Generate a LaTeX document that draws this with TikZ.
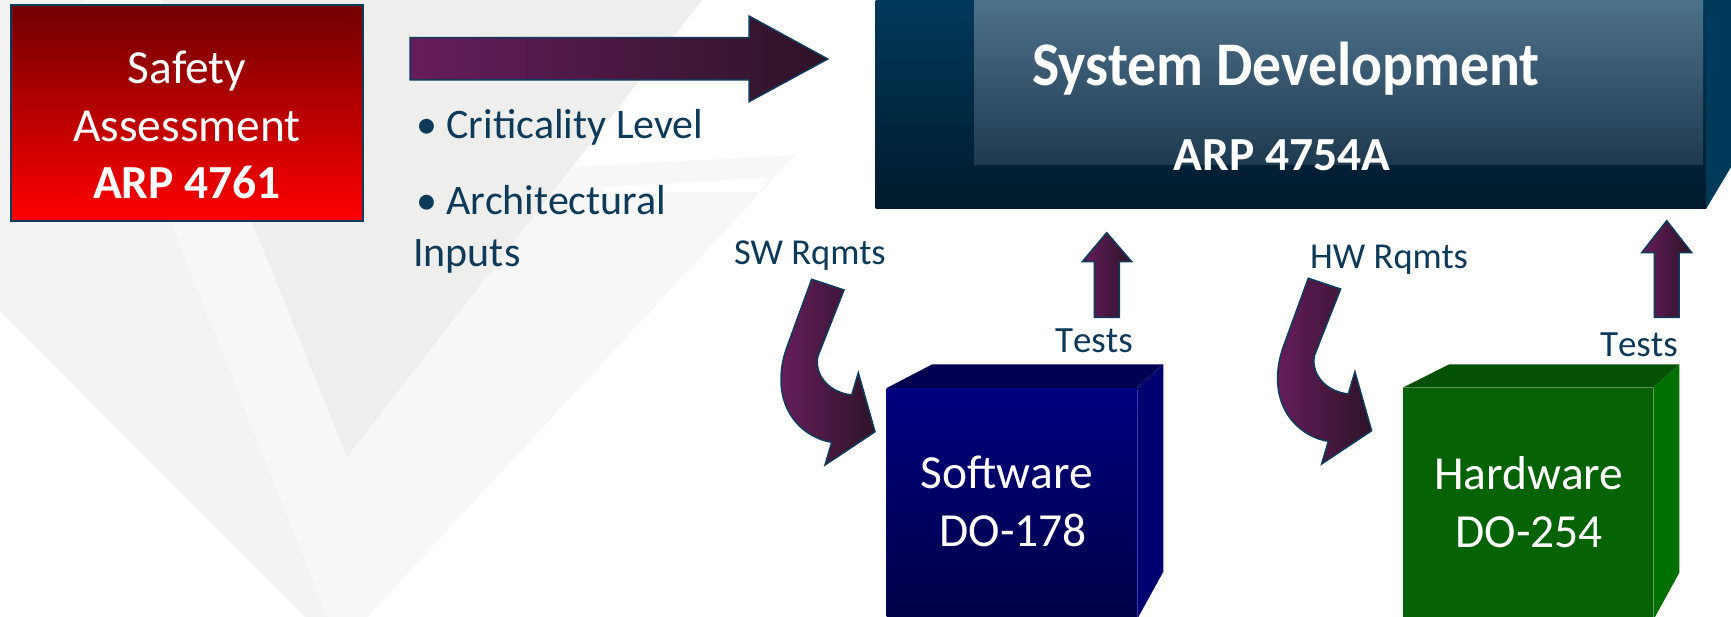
\documentclass[tikz,border=0pt]{standalone}
\usepackage{fontspec}
\setmainfont{Carlito}
\definecolor{txtblue}{RGB}{14,58,90}
\definecolor{arrowpurple}{RGB}{101,29,91}
\definecolor{arrowdark}{RGB}{45,19,39}
\definecolor{arrowedge}{RGB}{15,59,93}
\definecolor{safetytop}{RGB}{112,0,0}
\definecolor{safetybot}{RGB}{255,0,0}
\definecolor{sysTop}{RGB}{1,58,92}
\definecolor{sysBot}{RGB}{0,26,44}
\definecolor{sysInTop}{RGB}{79,115,140}
\definecolor{sysInBot}{RGB}{30,58,80}
\definecolor{sysSide}{RGB}{0,58,90}
\definecolor{swFrontTop}{RGB}{0,0,128}
\definecolor{swFrontBot}{RGB}{0,0,70}
\definecolor{swTopFace}{RGB}{0,0,80}
\definecolor{swSide}{RGB}{0,0,112}
\definecolor{swEdge}{RGB}{60,60,180}
\definecolor{hwFront}{RGB}{5,98,5}
\definecolor{hwTopFace}{RGB}{4,80,4}
\definecolor{hwSide}{RGB}{0,112,0}
\definecolor{bgA}{RGB}{243,243,243}
\definecolor{bgB}{RGB}{247,247,247}
\definecolor{bgC}{RGB}{238,238,236}
\begin{document}
\begin{tikzpicture}[x=1pt,y=-1pt,
  blockarrow/.style={draw=arrowedge,line width=1.5pt,left color=arrowpurple,right color=arrowdark},
  lbl/.style={inner sep=0pt,anchor=base,text=txtblue,font=\fontsize{36.5}{43}\selectfont},
  testlbl/.style={inner sep=0pt,anchor=base east,text=txtblue,font=\fontsize{37}{44}\selectfont\addfontfeature{Kerning=Off}},
  bullettxt/.style={inner sep=0pt,anchor=base west,text=txtblue,font=\fontsize{42}{50}\selectfont},
  whitetxt/.style={inner sep=0pt,anchor=base,text=white,font=\fontsize{47.5}{56}\selectfont},
  whitebold/.style={inner sep=0pt,anchor=base,text=white,font=\fontsize{47.5}{56}\selectfont\bfseries},
  rqarrow/.pic={
    \draw[draw=arrowedge,line width=1.5pt,left color=arrowpurple,right color=arrowdark]
      (811.7,279.3) -- (844,290) -- (818,356)
      .. controls (814,372) and (826,392) .. (851.7,395)
      -- (858.3,372.7) -- (875,431.7) -- (825,465) -- (831.7,442.3)
      .. controls (805,438) and (781,415) .. (781,380)
      .. controls (781,365) and (784,355) .. (788.3,343.3) -- cycle;
  }]
\useasboundingbox (0,0) rectangle (1731,617);
\fill[white] (0,0) rectangle (1731,617);
% background chevron
\fill[bgB] (83,0) -- (162,0) -- (347,457) -- (573,167) -- (795,155) -- (367,617) -- (327,617) -- cycle;
\fill[bgC] (162,0) -- (702,0) -- (347,457) -- cycle;
\fill[bgA] (0,0) -- (83,0) -- (327,617) -- (305,617) -- (0,311) -- cycle;
\fill[white] (603,187) -- (767,178) -- (760,192) -- (605,192) -- cycle;

% Safety assessment box
\draw[draw=arrowedge,line width=2pt,top color=safetytop,bottom color=safetybot] (11,5) rectangle (363,221);
\node[whitetxt] (safety1) at (187,83.3) {Safety};
\node[whitetxt] (safety2) at (187,141.7) {Assessment};
\node[whitebold] (safety3) at (187,198.3) {ARP 4761};

% big arrow
\draw[blockarrow] (410,37.7) -- (749,37.7) -- (749,16) -- (827.7,59) -- (749,101.7) -- (749,80) -- (410,80) -- cycle;

% bullets
\node[bullettxt] (crit) at (416,138.3) {• Criticality Level};
\node[bullettxt] (arch) at (416,215) {• Architectural};
\node[bullettxt] (inputs) at (413,266.7) {Inputs};

% System development box
\fill[sysSide] (1706,-5) -- (1740,-5) -- (1740,152) -- (1706,209) -- cycle;
\fill[top color=sysTop,bottom color=sysBot] (875.5,-5) rectangle (1706,209);
\fill[top color=sysInTop,bottom color=sysInBot] (974,-5) rectangle (1703,165);
\node[inner sep=0pt,anchor=base,text=white,font=\fontsize{62}{70}\selectfont\bfseries] (sysdev) at (1286,86) {\scalebox{0.93}[1]{System Development}};
\node[inner sep=0pt,anchor=base,text=white,font=\fontsize{47.5}{56}\selectfont\bfseries] (arp) at (1282,171) {ARP 4754A};

% Software cube
\fill[top color=swFrontTop,bottom color=swFrontBot] (886.7,388) rectangle (1136.7,620);
\fill[swTopFace] (886.7,388) -- (932.3,364.3) -- (1163.3,364.3) -- (1136.7,388) -- cycle;
\fill[swSide] (1136.7,388) -- (1163.3,364.3) -- (1163.3,571.7) -- (1136.7,620) -- cycle;
\draw[swEdge,line width=1pt] (1137.5,390) -- (1137.5,617);
\node[whitetxt] (sw1) at (1006.7,488.3) {Software};
\node[whitetxt] (sw2) at (1013.3,546.7) {DO-178};

% Hardware cube
\fill[hwFront] (1402.7,387.7) rectangle (1653.3,620);
\fill[hwTopFace] (1402.7,387.7) -- (1449.3,364.3) -- (1679.3,364.3) -- (1653.3,387.7) -- cycle;
\fill[hwSide] (1653.3,387.7) -- (1679.3,364.3) -- (1679.3,572.7) -- (1653.3,620) -- cycle;
\node[whitetxt] (hw1) at (1528.8,489.3) {Hardware};
\node[whitetxt] (hw2) at (1529.2,547.7) {DO-254};

% requirement arrows
\pic {rqarrow};
\begin{scope}[shift={(496.6,-1)}]
\pic {rqarrow};
\end{scope}
\node[lbl,anchor=base west] (swrq) at (734,265) {SW Rqmts};
\node[lbl,anchor=base west] (hwrq) at (1310,268.3) {HW Rqmts};

% test arrows
\draw[blockarrow] (1094.3,317.3) -- (1094.3,261.7) -- (1082.3,261.7) -- (1106.7,232.7) -- (1131.7,261.7) -- (1119.3,261.7) -- (1119.3,317.3) -- cycle;
\draw[blockarrow] (1654.3,317.3) -- (1654.3,252.7) -- (1641.7,252.7) -- (1666.7,220.7) -- (1691.7,252.7) -- (1679,252.7) -- (1679,317.3) -- cycle;
\node[testlbl] (swtests) at (1133,352.7) {Tests};
\node[testlbl] (hwtests) at (1678,356) {Tests};
\end{tikzpicture}
\end{document}
